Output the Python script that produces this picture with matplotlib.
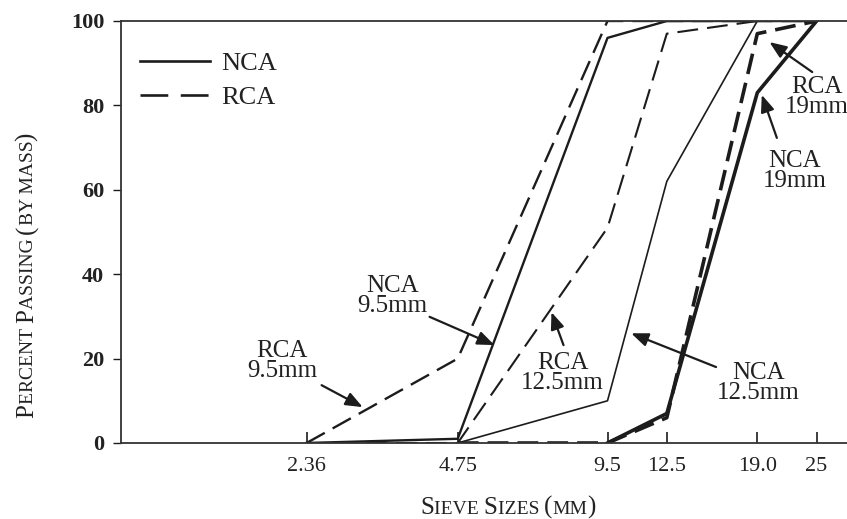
import numpy as np
import matplotlib
matplotlib.use("Agg")
import matplotlib.pyplot as plt
from matplotlib.lines import Line2D

plt.rcParams['font.family'] = ['Liberation Serif', 'DejaVu Serif']
plt.rcParams['lines.scale_dashes'] = False

# Sieve sizes (mm) and percent passing for each aggregate gradation
sieve_sizes = [2.36, 4.75, 9.5, 12.5, 19.0, 25]
tick_labels = ['2.36', '4.75', '9.5', '12.5', '19.0', '25']

nca_9_5 = [0, 1, 96, 100, 100, 100]
rca_9_5 = [0, 20, 100, 100, 100, 100]
nca_12_5 = [np.nan, 0, 10, 62, 100, 100]
rca_12_5 = [0, 0, 51, 97, 100, 100]
nca_19 = [np.nan, np.nan, 0, 7, 83, 100]
rca_19 = [np.nan, 0, 0, 6, 97, 100]

W, H = 847, 519
INK = '#1c1c1c'
TXT = '#222222'
DASH = (15, 6.5)

fig = plt.figure(figsize=(W / 100, H / 100), dpi=100)
# axes extends a little past the right edge so the right spine is cut off
ax = fig.add_axes([121 / W, (H - 443) / H, (856 - 121) / W, (443 - 21) / H])
ax.set_xscale('log')

x = np.array(sieve_sizes)
ax.plot(x, nca_9_5, color=INK, lw=1.7)
ax.plot(x, rca_9_5, color=INK, lw=1.7, linestyle=(0, DASH))
ax.plot(x, nca_12_5, color=INK, lw=1.2)
ax.plot(x, rca_12_5, color=INK, lw=1.5, linestyle=(0, DASH))
ax.plot(x, nca_19, color=INK, lw=2.6)
ax.plot(x, rca_19, color=INK, lw=2.6, linestyle=(0, DASH))

ax.set_xlim(1, 30)
ax.set_ylim(0, 100)
ax.set_xticks(sieve_sizes)
ax.set_xticklabels(tick_labels)
ax.xaxis.set_minor_locator(matplotlib.ticker.NullLocator())
ax.set_yticks([0, 20, 40, 60, 80, 100])

ax.tick_params(axis='x', direction='in', length=8, width=1.2, pad=10,
               labelsize=16, colors=INK, labelcolor=TXT)
ax.tick_params(axis='y', direction='out', length=6, width=1.0, pad=6,
               labelsize=16, colors=INK, labelcolor=TXT)
for lab in ax.get_yticklabels():
    lab.set_fontweight('bold')

for side in ['left', 'bottom', 'top']:
    ax.spines[side].set_color('#333333')
    ax.spines[side].set_linewidth(1.3)
ax.spines['right'].set_visible(False)

# legend
handles = [Line2D([], [], color=INK, lw=1.9),
           Line2D([], [], color=INK, lw=1.9, linestyle=(0, (20, 9)))]
leg = ax.legend(handles, ['NCA', 'RCA'], loc='upper left',
                bbox_to_anchor=((140 - 121) / 735, (443 - 52) / 422),
                frameon=False, fontsize=19, handlelength=2.65,
                handletextpad=0.42, labelspacing=0.4, borderpad=0,
                borderaxespad=0)
for t in leg.get_texts():
    t.set_color(TXT)

# callouts: (label, text position, arrow tail, arrow head)
callouts = [
    ('NCA\n9.5mm', (3.51, 34.8), (4.17, 29.9), (5.63, 23.2)),
    ('RCA\n9.5mm', (2.11, 19.4), (2.53, 13.7), (3.06, 8.5)),
    ('RCA\n12.5mm', (7.72, 16.6), (7.75, 23.2), (7.33, 31.0)),
    ('NCA\n12.5mm', (19.1, 14.2), (15.7, 18.0), (10.6, 26.0)),
    ('NCA\n19mm', (22.6, 64.5), (20.8, 72.3), (19.4, 82.5)),
    ('RCA\n19mm', (25.0, 82.0), (24.5, 87.9), (20.1, 95.0)),
]
for label, txy, tail, head in callouts:
    ax.text(txy[0], txy[1], label, ha='center', va='center', fontsize=18,
            color=TXT, linespacing=0.9, clip_on=False)
    ax.annotate('', xy=head, xytext=tail,
                arrowprops=dict(arrowstyle='-|>,head_length=0.6,head_width=0.24',
                                mutation_scale=17, color=INK, lw=1.6,
                                shrinkA=0, shrinkB=0))

# axis titles in small capitals, built from pieces of two sizes
renderer = fig.canvas.get_renderer()


def text_width(s, size):
    t = fig.text(0, 0, s + '|', fontsize=size)
    w1 = t.get_window_extent(renderer).width
    t.set_text('|')
    w2 = t.get_window_extent(renderer).width
    t.remove()
    return w1 - w2


def small_caps(parts, cx, cy, rotation=0):
    widths = [text_width(s, size) for s, size in parts]
    pos = -sum(widths) / 2
    for (s, size), w in zip(parts, widths):
        px, py = (cx + pos, cy) if rotation == 0 else (cx, cy + pos)
        fig.text(px / W, py / H, s, fontsize=size, color=TXT,
                 rotation=rotation, rotation_mode='anchor',
                 ha='left', va='baseline')
        pos += w


BIG, SMALL = 18, 14
small_caps([('S', BIG), ('IEVE ', SMALL), ('S', BIG), ('IZES ', SMALL),
            ('(', BIG), ('MM', SMALL), (')', BIG)], 508, H - 514)
small_caps([('P', BIG), ('ERCENT ', SMALL), ('P', BIG), ('ASSING ', SMALL),
            ('(', BIG), ('BY MASS', SMALL), (')', BIG)], 33, H - 275,
           rotation=90)

fig.savefig('out.png', dpi=100)
